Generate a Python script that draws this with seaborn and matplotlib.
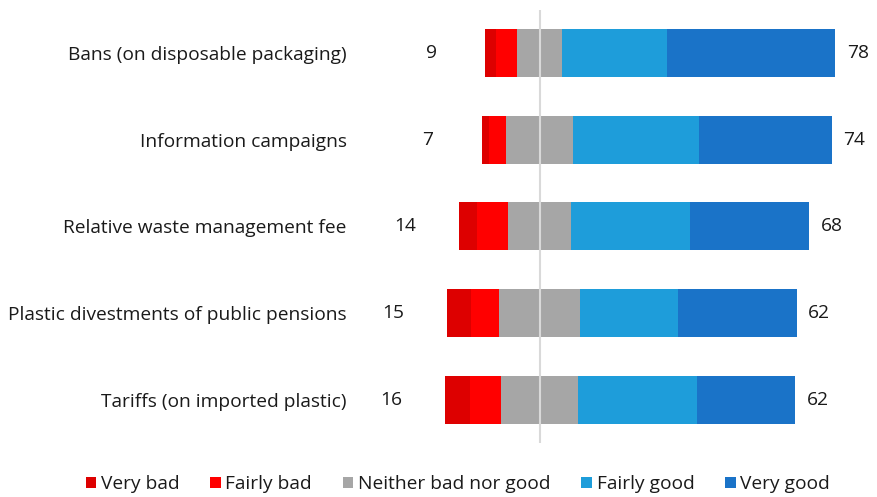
import numpy as np
import pandas as pd
import matplotlib
matplotlib.use("Agg")
import matplotlib.pyplot as plt
import seaborn as sns
from matplotlib.patches import Patch

# Survey shares (%) per policy measure
categories = ["Bans (on disposable packaging)",
              "Information campaigns",
              "Relative waste management fee",
              "Plastic divestments of public pensions",
              "Tariffs (on imported plastic)"]
very_bad = [3, 2, 5, 7, 7]
fairly_bad = [6, 5, 9, 8, 9]
neutral = [13, 19, 18, 23, 22]
fairly_good = [30, 36, 34, 28, 34]
very_good = [48, 38, 34, 34, 28]

series_names = ["Very bad", "Fairly bad", "Neither bad nor good", "Fairly good", "Very good"]
colors = ["#DD0000", "#FF0000", "#A6A6A6", "#1E9DDA", "#1A73C8"]

sns.set_theme(style="white")
plt.rcParams['font.family'] = ['Open Sans', 'DejaVu Sans']

df = pd.DataFrame({"cat": categories, "vb": very_bad, "fb": fairly_bad,
                   "nn": neutral, "fg": fairly_good, "vg": very_good})
half = df["nn"] / 2
df["r_nn"] = half
df["r_fg"] = half + df["fg"]
df["r_vg"] = half + df["fg"] + df["vg"]
df["l_nn"] = -half
df["l_fb"] = -half - df["fb"]
df["l_vb"] = -half - df["fb"] - df["vb"]

fig = plt.figure(figsize=(8.77, 4.97), dpi=100)
ax = fig.add_axes([0.40, 0.109, 0.59, 0.871])

bw = 0.554
fs = 13.8
# right side, longest first so shorter ones sit on top
for col, c in [("r_vg", colors[4]), ("r_fg", colors[3]), ("r_nn", colors[2])]:
    sns.barplot(data=df, x=col, y="cat", color=c, orient="h", width=bw,
                saturation=1, ax=ax, linewidth=0)
# left side
for col, c in [("l_vb", colors[0]), ("l_fb", colors[1]), ("l_nn", colors[2])]:
    sns.barplot(data=df, x=col, y="cat", color=c, orient="h", width=bw,
                saturation=1, ax=ax, linewidth=0)

ax.axvline(0, color="#D9D9D9", lw=1.5, zorder=5)

txt = "#1a1a1a"
for i, row in df.iterrows():
    bad = row["vb"] + row["fb"]
    good = row["fg"] + row["vg"]
    ax.text(row["l_vb"] - 15.5, i, f"{bad}", ha="center", va="center",
            fontsize=fs, color=txt)
    ax.text(row["r_vg"] + 6.5, i, f"{good}", ha="center", va="center",
            fontsize=fs, color=txt)

ax.set_xlim(-54, 94)
ax.set_ylim(4.5, -0.5)
ax.set_xlabel("")
ax.set_ylabel("")
ax.set_xticks([])
ax.tick_params(axis="y", length=0, pad=3, labelsize=fs, labelcolor=txt)
for s in ax.spines.values():
    s.set_visible(False)

handles = [Patch(facecolor=c, edgecolor="none") for c in colors]
fig.legend(handles, series_names, loc="center", bbox_to_anchor=(0.522, 0.026),
           ncol=5, frameon=False, fontsize=fs, handlelength=0.55,
           handleheight=0.55, handletextpad=0.25, columnspacing=1.6,
           labelcolor=txt)

fig.savefig("out.png", dpi=100)
